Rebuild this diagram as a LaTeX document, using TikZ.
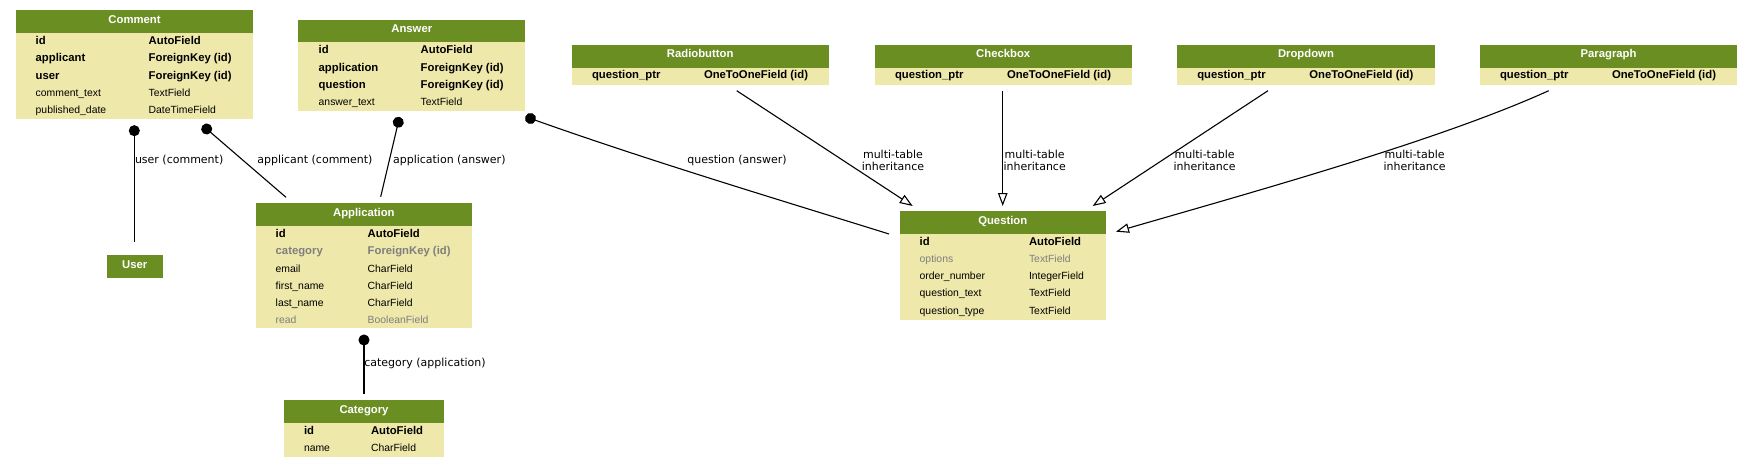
\documentclass[tikz,border=0pt]{standalone}
\usepackage{fontspec}
\setmainfont{Liberation Sans}
\newfontfamily\lblfont{DejaVu Sans}
\usetikzlibrary{arrows.meta}
\definecolor{hdrgreen}{HTML}{6B8E23}
\definecolor{bodykhaki}{HTML}{EEE8AA}
\definecolor{nulltext}{HTML}{7F7F7F}
\tikzset{
  hdrbox/.style={fill=hdrgreen, draw=none, inner sep=0pt, outer sep=0pt, anchor=north west,
    text=white, font=\fontsize{11.3}{12}\selectfont\bfseries, text height=8.5pt, text depth=5.2pt},
  bodybox/.style={fill=bodykhaki, draw=none, inner sep=0pt, outer sep=0pt, anchor=north west},
  cell/.style={inner sep=0pt, outer sep=0pt, anchor=base west, font=\fontsize{10.4}{12}\selectfont},
  keyf/.style={font=\fontsize{11.3}{12}\selectfont\bfseries},
  optf/.style={text=nulltext},
  lbl/.style={inner sep=0pt, outer sep=0pt, font=\lblfont\fontsize{11}{12}\selectfont, align=center},
  fk/.style={line width=1.1pt, {Circle[length=11pt,width=11pt]}-, shorten <=-5.5pt},
  inh/.style={line width=1.1pt, -{Triangle[open,length=13pt,width=9.5pt,fill=white]}},
}
% name, x1, x2, ytop, yhdrbottom, ybottom, title
\newcommand{\dbtable}[7]{%
  \node[bodybox, minimum width={#3pt-#2pt}, minimum height={#6pt-#5pt}] (#1-b) at (#2,#5) {};
  \node[hdrbox, minimum width={#3pt-#2pt}, minimum height={#5pt-#4pt}] (#1-h) at (#2,#4) {#7};
}
% name, col1 x, col2 x, baseline y, style, field, type
\newcommand{\frow}[7]{%
  \node[cell,#5] (#1-f) at ({#2},{#4+1.5}) {#6};
  \node[cell,#5] (#1-t) at ({#3},{#4+1.5}) {#7};
}
\begin{document}
\begin{tikzpicture}[x=1pt,y=-1pt]
\fill[white] (0,0) rectangle (1753,468);
\path[use as bounding box] (0,0) rectangle (1753,468);

% ---- Comment
\dbtable{comment}{15.7}{253.3}{10.3}{33}{119.3}{Comment}
\frow{comment-1}{35.7}{148.7}{43.2}{keyf}{id}{AutoField}
\frow{comment-2}{35.7}{148.7}{60.5}{keyf}{applicant}{ForeignKey (id)}
\frow{comment-3}{35.7}{148.7}{77.7}{keyf}{user}{ForeignKey (id)}
\frow{comment-4}{35.7}{148.7}{95.0}{}{comment\_text}{TextField}
\frow{comment-5}{35.7}{148.7}{112.2}{}{published\_date}{DateTimeField}

% ---- Answer
\dbtable{answer}{298.3}{525.3}{20}{42.3}{110.7}{Answer}
\frow{answer-1}{318.7}{420.7}{52.5}{keyf}{id}{AutoField}
\frow{answer-2}{318.7}{420.7}{69.6}{keyf}{application}{ForeignKey (id)}
\frow{answer-3}{318.7}{420.7}{86.7}{keyf}{question}{ForeignKey (id)}
\frow{answer-4}{318.7}{420.7}{103.8}{}{answer\_text}{TextField}

% ---- Radiobutton / Checkbox / Dropdown / Paragraph
\dbtable{radio}{571.7}{828.7}{45}{67.7}{85}{Radiobutton}
\frow{radio-1}{592}{704}{77.5}{keyf}{question\_ptr}{OneToOneField (id)}
\dbtable{checkbox}{874.7}{1131.7}{45}{67.7}{85}{Checkbox}
\frow{checkbox-1}{895}{1007}{77.5}{keyf}{question\_ptr}{OneToOneField (id)}
\dbtable{dropdown}{1177.3}{1434.6}{45}{67.7}{85}{Dropdown}
\frow{dropdown-1}{1197.3}{1309.3}{77.5}{keyf}{question\_ptr}{OneToOneField (id)}
\dbtable{paragraph}{1479.8}{1737.3}{45}{67.7}{85}{Paragraph}
\frow{paragraph-1}{1500}{1612}{77.5}{keyf}{question\_ptr}{OneToOneField (id)}

% ---- Application
\dbtable{application}{256}{471.7}{203.3}{225.7}{328}{Application}
\frow{application-1}{275.7}{367.7}{236.3}{keyf}{id}{AutoField}
\frow{application-2}{275.7}{367.7}{253.4}{keyf,optf}{category}{ForeignKey (id)}
\frow{application-3}{275.7}{367.7}{270.5}{}{email}{CharField}
\frow{application-4}{275.7}{367.7}{287.6}{}{first\_name}{CharField}
\frow{application-5}{275.7}{367.7}{304.7}{}{last\_name}{CharField}
\frow{application-6}{275.7}{367.7}{321.8}{optf}{read}{BooleanField}

% ---- Question
\dbtable{question}{900}{1105.5}{211.3}{233.5}{320}{Question}
\frow{question-1}{919.7}{1029}{243.5}{keyf}{id}{AutoField}
\frow{question-2}{919.7}{1029}{260.8}{optf}{options}{TextField}
\frow{question-3}{919.7}{1029}{278.1}{}{order\_number}{IntegerField}
\frow{question-4}{919.7}{1029}{295.4}{}{question\_text}{TextField}
\frow{question-5}{919.7}{1029}{312.7}{}{question\_type}{TextField}

% ---- Category
\dbtable{category}{284}{444}{400.3}{422.7}{456.7}{Category}
\frow{category-1}{304}{371}{432.7}{keyf}{id}{AutoField}
\frow{category-2}{304}{371}{449.7}{}{name}{CharField}

% ---- User
\node[hdrbox, minimum width=56pt, minimum height=22.7pt] (user-h) at (106.7,255) {User};

% ---- connector end points
\coordinate (cu-s) at (134.3,130.7);  \coordinate (cu-e) at (134.3,241.7);
\coordinate (ca-s) at (206.7,129);    \coordinate (ca-e) at (286,197.3);
\coordinate (aa-s) at (398.3,122.3);  \coordinate (aa-e) at (380.7,196.7);
\coordinate (qa-s) at (530.5,118.5);  \coordinate (qa-e) at (889,234);
\coordinate (cat-s) at (364,340);     \coordinate (cat-e) at (364,394);
\coordinate (rb-s) at (736.7,90.7);   \coordinate (rb-e) at (912.7,206);
\coordinate (cb-s) at (1002.7,90.7);  \coordinate (cb-e) at (1002.7,206);
\coordinate (dd-s) at (1268,90.7);    \coordinate (dd-e) at (1092.7,206);
\coordinate (pg-s) at (1548.7,90.7);  \coordinate (pg-e) at (1116,231.7);

% ---- foreign keys
\draw[fk] (cu-s) -- (cu-e);
\draw[fk] (ca-s) -- (ca-e);
\draw[fk] (aa-s) -- (aa-e);
\draw[fk] (qa-s) .. controls (650,161) and (780,200) .. (qa-e);
\draw[fk] (cat-s) -- (cat-e);

\node[lbl, anchor=west] (l-cu) at (135,160) {user (comment)};
\node[lbl] (l-ca) at (314.9,160) {applicant (comment)};
\node[lbl] (l-aa) at (449.3,160) {application (answer)};
\node[lbl] (l-qa) at (737,160) {question (answer)};
\node[lbl, anchor=west] (l-cat) at (364.3,363.3) {category (application)};

% ---- multi-table inheritance
\draw[inh] (rb-s) -- (rb-e);
\draw[inh] (cb-s) -- (cb-e);
\draw[inh] (dd-s) -- (dd-e);
\draw[inh] (pg-s) .. controls (1440,140) and (1260,190) .. (pg-e);

\node[lbl] (l-rb) at (893,160) {multi-table\\inheritance};
\node[lbl] (l-cb) at (1034.7,160) {multi-table\\inheritance};
\node[lbl] (l-dd) at (1204.6,160) {multi-table\\inheritance};
\node[lbl] (l-pg) at (1414.6,160) {multi-table\\inheritance};
\end{tikzpicture}
\end{document}
